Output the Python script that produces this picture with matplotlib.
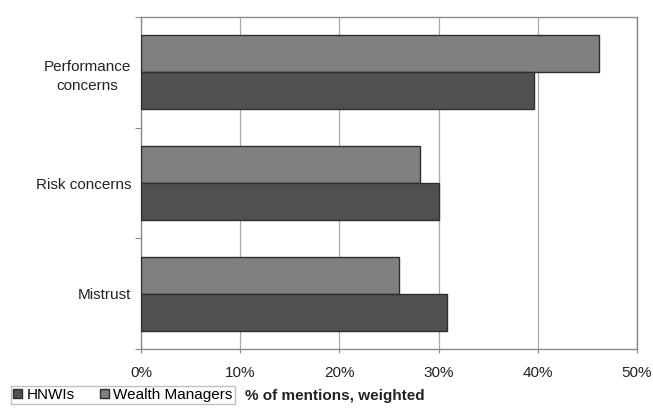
import matplotlib
matplotlib.use("Agg")
import matplotlib.pyplot as plt
from matplotlib.patches import Patch
import numpy as np

plt.rcParams['font.family'] = ['Liberation Sans', 'DejaVu Sans']

categories = ["Performance\nconcerns", "Risk concerns", "Mistrust"]
hnwis = [39.6, 30.0, 30.8]
wealth_managers = [46.2, 28.1, 26.0]
x_ticks = [0, 10, 20, 30, 40, 50]
x_tick_labels = ["0%", "10%", "20%", "30%", "40%", "50%"]

c_hnwi = "#505050"
c_wm = "#808080"
c_edge = "#2e2e2e"
c_axis = "#8a8a8a"

fig = plt.figure(figsize=(6.53, 4.08), dpi=100)
ax = fig.add_axes([141/653, 1 - 349/408, 496/653, 332/408])

y = np.arange(len(categories))
h = 0.334
ax.barh(y - h/2, wealth_managers, height=h, color=c_wm, edgecolor=c_edge, linewidth=1.0, zorder=3)
ax.barh(y + h/2, hnwis, height=h, color=c_hnwi, edgecolor=c_edge, linewidth=1.0, zorder=3)

ax.set_xlim(0, 50)
ax.set_ylim(len(categories) - 0.5, -0.5)

ax.set_xticks(x_ticks)
ax.set_xticklabels(x_tick_labels, fontsize=11, color="#222222")
ax.tick_params(axis='x', direction='out', length=3, color=c_axis, pad=9)
ax.xaxis.grid(True, color="#a8a8a8", linewidth=0.9, zorder=0)

# category boundaries carry tick marks; labels sit at group centres
ax.set_yticks(np.arange(-0.5, len(categories), 1.0))
ax.set_yticklabels([])
ax.tick_params(axis='y', which='major', direction='out', length=4, color=c_axis)
ax.set_yticks(y, minor=True)
ax.set_yticklabels(categories, minor=True, fontsize=11, color="#222222",
                   multialignment='center', linespacing=1.45)
ax.tick_params(axis='y', which='minor', length=0, pad=7)

for s in ax.spines.values():
    s.set_color(c_axis)
    s.set_linewidth(1.0)

handles = [Patch(facecolor=c_hnwi, edgecolor=c_edge, label="HNWIs"),
           Patch(facecolor=c_wm, edgecolor=c_edge, label="Wealth Managers")]
leg = fig.legend(handles=handles, loc='center left', bbox_to_anchor=(11/653, 1 - 395/408),
                 ncol=2, fontsize=11, frameon=True, fancybox=False, edgecolor="#b0b0b0",
                 handlelength=0.6, handleheight=0.6, handletextpad=0.3, columnspacing=1.6,
                 borderpad=0.15, borderaxespad=0)
leg.get_frame().set_linewidth(1.0)

fig.text(245/653, 1 - 396/408, "% of mentions, weighted", fontsize=11, fontweight='bold',
         color="#222222", va='center', ha='left')

fig.savefig("out.png", dpi=100)
